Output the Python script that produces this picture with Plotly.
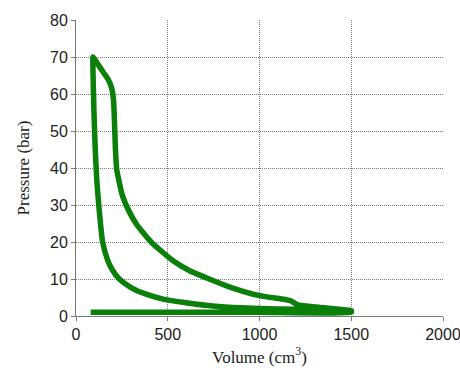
import plotly.graph_objects as go

# P-V loop data (volume cm3, pressure bar)
# intake line, then compression curve, then expansion curve
volume = [80, 500, 1000, 1500,
          1500, 1300, 1100, 900, 745, 600, 480, 382, 300, 236, 200, 173, 145, 124, 113,
          105, 98, 94, 92, 93,
          120, 147, 175, 195, 205, 210, 215, 222, 233, 250, 273, 327, 409, 527, 617, 726,
          850, 1000, 1146, 1170, 1200, 1218, 1350, 1500]
pressure = [1.0, 1.0, 1.0, 1.0,
            1.5, 1.7, 1.9, 2.2, 2.7, 3.6, 4.5, 5.9, 7.7, 10.0, 12.3, 15.0, 20.0, 30.0, 37.0,
            45.0, 55.0, 63.0, 68.0, 70.0,
            68.0, 66.0, 64.0, 61.5, 58.0, 52.0, 45.0, 39.5, 36.8, 33.0, 30.0, 25.0, 20.0, 15.0, 12.3, 10.0,
            7.6, 5.5, 4.4, 4.1, 3.2, 2.9, 2.2, 1.5]

x_ticks = [0, 500, 1000, 1500, 2000]
y_ticks = [0, 10, 20, 30, 40, 50, 60, 70, 80]

fig = go.Figure()
fig.add_trace(go.Scatter(x=volume, y=pressure, mode="lines",
                         line=dict(color="#0a7f0a", width=5.5, shape="spline", smoothing=0.5),
                         showlegend=False, hoverinfo="skip"))

axis_common = dict(showgrid=True, gridcolor="#7a7a7a", griddash="1px,1px", gridwidth=1,
                   showline=True, linecolor="#7a7a7a", linewidth=1,
                   ticks="outside", ticklen=4, tickcolor="#7a7a7a",
                   tickfont=dict(family="Liberation Sans, Arial", size=16, color="#222"),
                   zeroline=False, automargin=False, ticklabeloverflow="allow")

fig.update_xaxes(range=[0, 2000], tickvals=x_ticks, **axis_common,
                 title=dict(text="Volume (cm<sup>3</sup>)",
                            font=dict(family="Liberation Serif, Times New Roman", size=17, color="#222"),
                            standoff=8))
fig.update_yaxes(range=[0, 80], tickvals=y_ticks, **axis_common,
                 title=dict(text="Pressure (bar)",
                            font=dict(family="Liberation Serif, Times New Roman", size=17, color="#222"),
                            standoff=16))

fig.update_layout(width=460, height=370, margin=dict(l=76, r=17, t=20, b=54),
                  plot_bgcolor="white", paper_bgcolor="white")

fig.write_html("out.html")
